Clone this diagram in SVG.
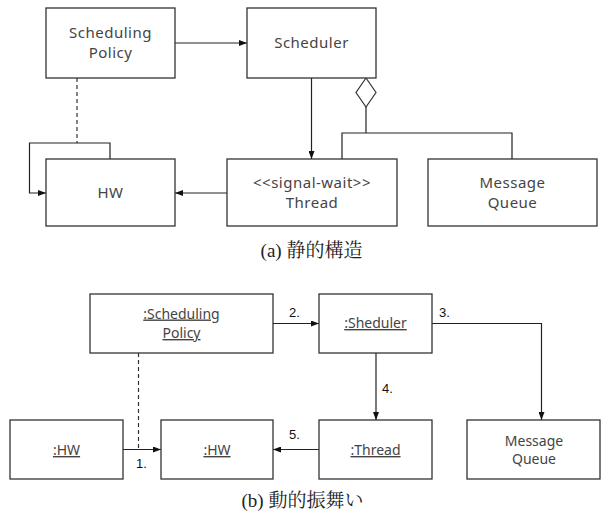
<svg xmlns="http://www.w3.org/2000/svg" width="601" height="516" viewBox="0 0 601 516">
  <style>
    .box { fill: #fff; stroke: #333; stroke-width: 1.3; }
    .lbl { font-family: "Noto Sans", "Noto Sans CJK JP", sans-serif; font-size: 15px; letter-spacing: 0.5px; fill: #444; text-anchor: middle; }
    .obj { font-size: 14px; letter-spacing: 0; text-decoration: underline; }
    .num { font-family: "Liberation Sans", Arial, sans-serif; font-size: 13px; fill: #111; }
    .cap { font-family: "Liberation Serif", "Noto Serif CJK JP", "Noto Sans CJK JP", serif; font-size: 19px; fill: #222; text-anchor: middle; }
    .ln { fill: none; stroke: #222; stroke-width: 1.2; }
    .dash { fill: none; stroke: #333; stroke-width: 1.2; stroke-dasharray: 4 3; }
  </style>
  <defs>
    <marker id="arr" viewBox="0 0 8 6" refX="8" refY="3" markerWidth="8" markerHeight="6" markerUnits="userSpaceOnUse" orient="auto">
      <path d="M0,0 L8,3 L0,6 z" fill="#111"/>
    </marker>
  </defs>

  <rect width="601" height="516" fill="#fff"/>

  <!-- (a) static structure -->
  <g id="connectors-a">
    <line class="ln" x1="175" y1="43" x2="247" y2="43" marker-end="url(#arr)"/>
    <line class="ln" x1="311.5" y1="78" x2="311.5" y2="159" marker-end="url(#arr)"/>
    <line class="ln" x1="227" y1="193" x2="175" y2="193" marker-end="url(#arr)"/>
    <polygon points="366,78 376,92.5 366,107 356,92.5" fill="#fff" stroke="#333" stroke-width="1.2"/>
    <polyline class="ln" points="366,107 366,133"/>
    <polyline class="ln" points="342,159 342,133 512,133 512,159"/>
    <line class="dash" x1="77" y1="78" x2="77" y2="143"/>
    <polyline class="ln" points="110,159 110,143 29.5,143 29.5,193 46,193" marker-end="url(#arr)"/>
  </g>

  <g id="a-policy">
    <rect class="box" x="46" y="8" width="129" height="70"/>
    <text class="lbl" x="110.5" y="38">Scheduling</text>
    <text class="lbl" x="110.5" y="58">Policy</text>
  </g>
  <g id="a-scheduler">
    <rect class="box" x="247" y="8" width="129" height="70"/>
    <text class="lbl" x="311.5" y="48">Scheduler</text>
  </g>
  <g id="a-hw">
    <rect class="box" x="46" y="159" width="129" height="67"/>
    <text class="lbl" x="110.5" y="198">HW</text>
  </g>
  <g id="a-thread">
    <rect class="box" x="227" y="159" width="170" height="67"/>
    <text class="lbl" x="312" y="188">&lt;&lt;signal-wait&gt;&gt;</text>
    <text class="lbl" x="312" y="208">Thread</text>
  </g>
  <g id="a-queue">
    <rect class="box" x="428" y="159" width="169" height="67"/>
    <text class="lbl" x="512.5" y="188">Message</text>
    <text class="lbl" x="512.5" y="208">Queue</text>
  </g>
  <text class="cap" x="311.5" y="257">(a) 静的構造</text>

  <!-- (b) dynamic behaviour -->
  <g id="connectors-b">
    <line class="ln" x1="273" y1="323.5" x2="319" y2="323.5" marker-end="url(#arr)"/>
    <polyline class="ln" points="432,323.5 541.5,323.5 541.5,420" marker-end="url(#arr)"/>
    <line class="ln" x1="376" y1="353" x2="376" y2="420" marker-end="url(#arr)"/>
    <line class="ln" x1="319" y1="449.5" x2="273" y2="449.5" marker-end="url(#arr)"/>
    <line class="ln" x1="123" y1="449.5" x2="161" y2="449.5" marker-end="url(#arr)"/>
    <line class="dash" x1="138.5" y1="353" x2="138.5" y2="449.5"/>
    <text class="num" x="289" y="317">2.</text>
    <text class="num" x="439" y="317">3.</text>
    <text class="num" x="382" y="393">4.</text>
    <text class="num" x="289" y="439">5.</text>
    <text class="num" x="136" y="468">1.</text>
  </g>

  <g id="b-policy">
    <rect class="box" x="90" y="294" width="183" height="59"/>
    <text class="lbl obj" x="181.5" y="318.5">:Scheduling</text>
    <text class="lbl obj" x="181.5" y="338">Policy</text>
  </g>
  <g id="b-scheduler">
    <rect class="box" x="319" y="294" width="113" height="59"/>
    <text class="lbl obj" x="375.5" y="328">:Sheduler</text>
  </g>
  <g id="b-hw1">
    <rect class="box" x="10" y="420" width="113" height="59"/>
    <text class="lbl obj" x="66.5" y="455">:HW</text>
  </g>
  <g id="b-hw2">
    <rect class="box" x="161" y="420" width="112" height="59"/>
    <text class="lbl obj" x="217" y="455">:HW</text>
  </g>
  <g id="b-thread">
    <rect class="box" x="319" y="420" width="113" height="59"/>
    <text class="lbl obj" x="375.5" y="455">:Thread</text>
  </g>
  <g id="b-queue">
    <rect class="box" x="467" y="420" width="133" height="59"/>
    <text class="lbl" x="534" y="446" style="font-size:14px;letter-spacing:0">Message</text>
    <text class="lbl" x="534" y="464" style="font-size:14px;letter-spacing:0">Queue</text>
  </g>
  <text class="cap" x="302.5" y="507">(b) 動的振舞い</text>
</svg>
